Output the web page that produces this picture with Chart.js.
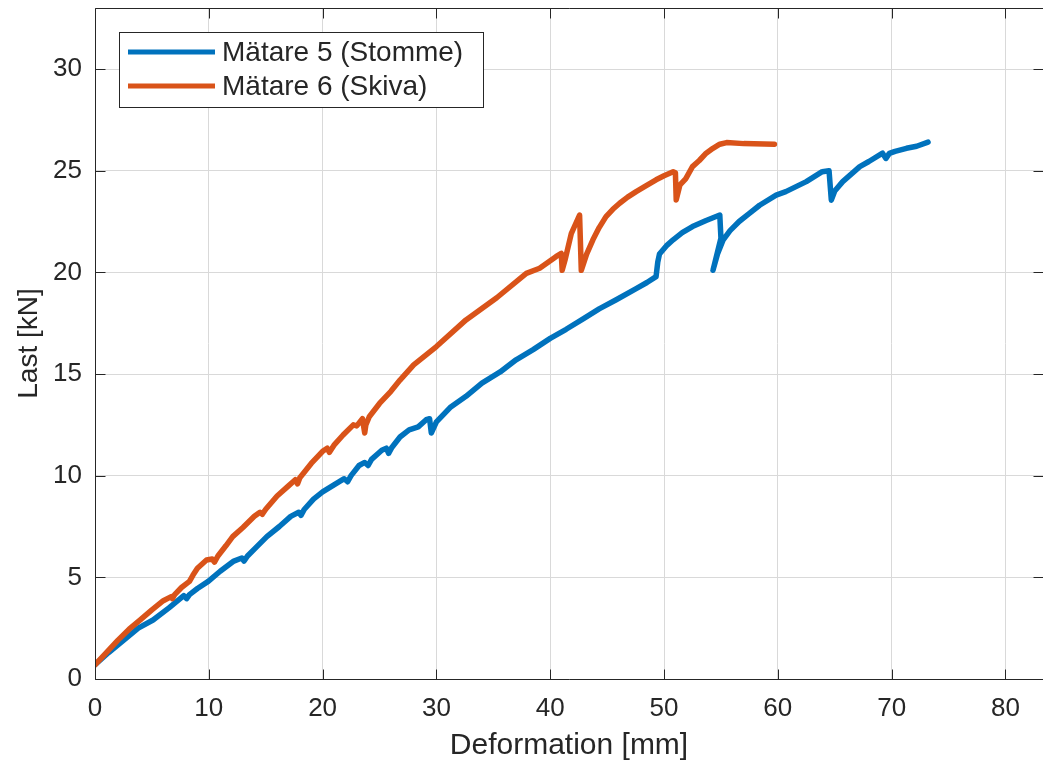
<!DOCTYPE html>
<html>
<head>
<meta charset="utf-8">
<script src="https://cdn.jsdelivr.net/npm/chart.js@4/dist/chart.umd.min.js"></script>
<style>
html,body{margin:0;padding:0;background:#fff;}
canvas{display:block;}
</style>
</head>
<body>
<canvas id="c" width="1043" height="767"></canvas>
<script>
// ---- Data ----
const seriesLabels = ["Mätare 5 (Stomme)", "Mätare 6 (Skiva)"];
const xTitle = "Deformation [mm]";
const yTitle = "Last [kN]";

const m5x = [0,1.2,2.5,3.8,5.1,6.5,7.8,8.05,8.3,9.0,9.95,11.0,12.2,12.9,13.1,13.4,14.2,15.1,16.2,17.2,17.9,18.1,18.4,19.2,20.0,21.0,21.9,22.2,22.5,23.2,23.7,24.0,24.3,25.2,25.6,25.8,26.1,26.8,27.6,28.4,29.1,29.4,29.55,29.8,30.0,31.2,32.6,34.0,35.6,37.0,38.5,40.0,41.4,43.0,44.3,45.8,47.55,48.5,49.3,49.45,49.6,50.2,50.8,51.6,52.5,53.7,54.9,55.0,54.3,54.7,55.2,55.8,56.6,57.5,58.4,59.85,60.7,62.5,63.9,64.5,64.7,65.0,65.7,67.2,68.0,69.2,69.5,69.8,70.3,71.3,72.2,73.2];
const m5y = [0.7,1.3,1.9,2.5,2.9,3.5,4.1,3.95,4.15,4.45,4.8,5.3,5.8,5.95,5.8,6.05,6.5,7.0,7.5,8.0,8.2,8.05,8.35,8.85,9.2,9.55,9.85,9.7,10.0,10.5,10.65,10.5,10.8,11.25,11.35,11.1,11.4,11.9,12.25,12.4,12.75,12.8,12.1,12.4,12.65,13.35,13.9,14.55,15.1,15.7,16.2,16.75,17.2,17.75,18.2,18.65,19.2,19.5,19.79,20.5,20.9,21.3,21.6,21.95,22.25,22.55,22.82,21.68,20.1,20.9,21.6,22.05,22.5,22.9,23.3,23.8,23.97,24.46,24.95,25.0,23.55,24.0,24.46,25.2,25.45,25.86,25.6,25.85,25.95,26.1,26.2,26.4];

const m6x = [0,1.0,2.0,3.0,3.95,5.0,6.0,6.7,6.8,7.0,7.6,8.3,8.6,9.0,9.8,10.3,10.5,10.8,11.5,12.1,13.0,14.0,14.5,14.7,15.0,16.0,17.0,17.6,17.8,18.0,19.0,20.0,20.4,20.6,21.0,21.8,22.7,23.0,23.5,23.7,23.8,24.1,25.0,26.0,26.8,28.0,30.0,32.6,35.3,37.9,39.07,40.5,40.97,41.05,41.3,41.85,42.58,42.73,43.2,43.75,44.3,44.9,45.5,46.1,46.8,47.55,48.4,49.3,50.0,50.8,51.0,51.07,51.4,51.9,52.5,53.1,53.7,54.3,54.9,55.5,57.0,59.7];
const m6y = [0.7,1.3,1.9,2.45,2.9,3.4,3.85,4.05,3.95,4.15,4.5,4.8,5.1,5.45,5.85,5.9,5.75,6.05,6.55,7.0,7.45,8.0,8.2,8.1,8.35,9.0,9.5,9.8,9.6,9.9,10.6,11.2,11.35,11.15,11.5,12.0,12.5,12.45,12.8,12.1,12.5,12.9,13.55,14.15,14.7,15.45,16.35,17.66,18.75,19.95,20.2,20.77,20.93,20.1,20.6,21.9,22.82,20.1,20.9,21.6,22.2,22.74,23.1,23.4,23.7,23.97,24.25,24.55,24.75,24.95,24.9,23.56,24.3,24.6,25.2,25.5,25.86,26.1,26.3,26.38,26.33,26.3];

const xTickValues = [0,10,20,30,40,50,60,70,80];
const yTickValues = [0,5,10,15,20,25,30];

const colors = ["#0072BD", "#D95319"];
const axisColor = "#262626";
const gridColor = "#d9d9d9";
const FONT = "'Liberation Sans', Arial, Helvetica, sans-serif";

function pts(xs, ys){ return xs.map((x,i)=>({x:x, y:ys[i]})); }

const boxAndTicks = {
  id: 'boxAndTicks',
  afterDatasetsDraw(chart){
    const ctx = chart.ctx, a = chart.chartArea;
    const xs = chart.scales.x, ys = chart.scales.y;
    ctx.save();
    ctx.strokeStyle = axisColor;
    ctx.lineWidth = 1;
    ctx.beginPath();
    const L = 10;
    const l = Math.round(a.left) + 0.5, t = Math.round(a.top) + 0.5;
    const r = Math.round(a.right) + 0.5, b = Math.round(a.bottom) + 0.5;
    xTickValues.forEach(v=>{
      const px = Math.round(xs.getPixelForValue(v)) + 0.5;
      ctx.moveTo(px, b); ctx.lineTo(px, b - L);
      ctx.moveTo(px, t); ctx.lineTo(px, t + L);
    });
    yTickValues.forEach(v=>{
      const py = Math.round(ys.getPixelForValue(v)) + 0.5;
      ctx.moveTo(l, py); ctx.lineTo(l + L, py);
      ctx.moveTo(r, py); ctx.lineTo(r - L, py);
    });
    ctx.moveTo(r + 2, t); ctx.lineTo(l, t); ctx.lineTo(l, b); ctx.lineTo(r + 2, b);
    ctx.stroke();
    // legend
    const lx = Math.round(a.left) + 24, ly = Math.round(a.top) + 24, lw = 364, lh = 75;
    ctx.fillStyle = "#fff";
    ctx.fillRect(lx, ly, lw, lh);
    ctx.strokeRect(lx + 0.5, ly + 0.5, lw, lh);
    ctx.font = "28px " + FONT;
    ctx.textBaseline = "middle";
    ctx.textAlign = "left";
    chart.data.datasets.forEach((ds, i)=>{
      const yy = ly + 20 + i * 34;
      ctx.strokeStyle = ds.borderColor;
      ctx.lineWidth = 5;
      ctx.beginPath();
      ctx.moveTo(lx + 9, yy); ctx.lineTo(lx + 96, yy);
      ctx.stroke();
      ctx.fillStyle = axisColor;
      ctx.fillText(ds.label, lx + 103, yy + 1);
    });
    ctx.restore();
  }
};

new Chart(document.getElementById('c'), {
  type: 'line',
  data: {
    datasets: [
      {label: seriesLabels[0], data: pts(m5x, m5y), borderColor: colors[0], backgroundColor: colors[0], order: 1},
      {label: seriesLabels[1], data: pts(m6x, m6y), borderColor: colors[1], backgroundColor: colors[1], order: 0}
    ]
  },
  options: {
    responsive: false,
    animation: false,
    layout: {padding: {top: 8, right: -1, left: 0, bottom: 0}},
    elements: {
      point: {radius: 0, hoverRadius: 0},
      line: {borderWidth: 5.5, tension: 0, borderCapStyle: 'round', borderJoinStyle: 'round', fill: false}
    },
    plugins: {legend: {display: false}, tooltip: {enabled: false}},
    scales: {
      x: {
        type: 'linear', min: 0, max: 83.3,
        afterFit(s){ s.height = 88; s.paddingLeft = 0; s.paddingRight = 0; },
        afterBuildTicks(s){ s.ticks = xTickValues.map(v=>({value: v})); },
        grid: {color: gridColor, lineWidth: 1, drawTicks: false},
        border: {display: false},
        ticks: {color: axisColor, font: {size: 26, family: FONT}, padding: 14, maxRotation: 0, autoSkip: false},
        title: {display: true, text: xTitle, color: axisColor, font: {size: 30, family: FONT}, padding: {top: 0, bottom: 3}}
      },
      y: {
        type: 'linear', min: 0, max: 33,
        afterFit(s){ s.width = 95; s.paddingTop = 0; s.paddingBottom = 0; },
        afterBuildTicks(s){ s.ticks = yTickValues.map(v=>({value: v})); },
        grid: {color: gridColor, lineWidth: 1, drawTicks: false},
        border: {display: false},
        ticks: {color: axisColor, font: {size: 26, family: FONT}, padding: 13, autoSkip: false},
        title: {display: true, text: yTitle, color: axisColor, font: {size: 28, family: FONT}, padding: {top: 12, bottom: 0}}
      }
    }
  },
  plugins: [boxAndTicks]
});
</script>
</body>
</html>
